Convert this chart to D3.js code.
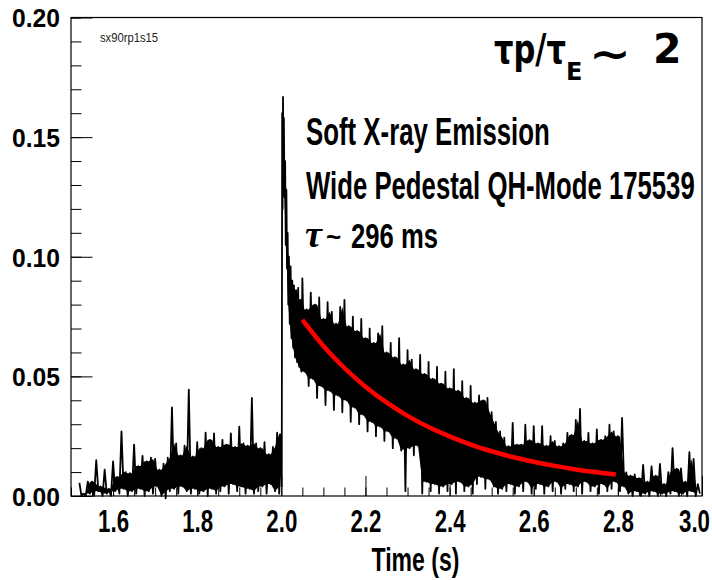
<!DOCTYPE html>
<html><head><meta charset="utf-8">
<script src="https://cdn.jsdelivr.net/npm/d3@7"></script>
<style>html,body{margin:0;padding:0;background:#fff;} svg{display:block}</style>
</head><body>
<svg id="chart" width="712" height="580"></svg>
<script>
// ---------------- data ----------------
const sigTime = [
1.52,1.53,1.54,1.55,1.56,1.57,1.58,1.59,1.60,1.61,1.62,1.63,1.64,1.65,1.66,1.67,1.68,1.69,1.70,1.71,1.72,1.73,1.74,1.75,
1.76,1.77,1.78,1.79,1.80,1.81,1.82,1.83,1.84,1.85,1.86,1.87,1.88,1.89,1.90,1.91,1.92,1.93,1.94,1.95,1.96,1.97,1.98,1.99,
2.000,2.002,2.004,2.006,2.009,2.012,2.015,2.018,2.022,2.026,2.030,2.035,2.040,2.045,
2.05,2.06,2.07,2.08,2.09,2.10,2.11,2.12,2.13,2.14,2.15,2.16,2.17,2.18,2.19,2.20,2.21,2.22,2.23,2.24,2.25,2.26,2.27,2.28,
2.29,2.30,2.31,2.32,2.33,2.34,2.35,2.36,2.37,2.38,2.39,2.40,2.41,2.42,2.43,2.44,2.45,2.46,2.47,2.48,2.49,2.50,2.51,2.52,
2.53,2.54,2.55,2.56,2.57,2.58,2.59,2.60,2.61,2.62,2.63,2.64,2.65,2.66,2.67,2.68,2.69,2.70,2.71,2.72,2.73,2.74,2.75,2.76,
2.77,2.78,2.79,2.80,2.81,2.82,2.83,2.84,2.85,2.86,2.87,2.88,2.89,2.90,2.91,2.92,2.93,2.94,2.95,2.96,2.97,2.98,2.99];
const sigHigh = [
0.0055,0.001,0.006,0.006,0.015,0.004,0.011,0.003,0.0145,0.008,0.027,0.010,0.0095,0.0215,0.0125,0.0168,0.0145,0.016,0.0155,0.011,0.0135,0.016,0.037,0.022,
0.017,0.021,0.0444,0.0165,0.0225,0.020,0.0265,0.0235,0.0262,0.0205,0.0235,0.0215,0.0262,0.0205,0.029,0.022,0.021,0.041,0.022,0.020,0.0225,0.0175,0.0205,0.0265,
0.026,0.160,0.1668,0.158,0.140,0.128,0.110,0.100,0.096,0.090,0.088,0.086,0.087,0.082,
0.091,0.078,0.085,0.080,0.083,0.074,0.081,0.077,0.072,0.079,0.082,0.071,0.075,0.069,0.074,0.066,0.070,0.064,0.068,0.071,0.060,0.064,0.058,0.066,
0.055,0.061,0.057,0.053,0.059,0.051,0.056,0.049,0.054,0.047,0.052,0.045,0.053,0.044,0.048,0.041,0.046,0.039,0.042,0.040,0.041,0.035,0.031,0.027,
0.0244,0.0208,0.0306,0.0215,0.0215,0.0298,0.0233,0.0292,0.022,0.0292,0.021,0.025,0.023,0.0208,0.022,0.0264,0.0255,0.0318,0.0364,0.023,0.0264,0.022,0.0278,0.0235,
0.025,0.0298,0.027,0.025,0.0326,0.0099,0.0085,0.009,0.0075,0.013,0.006,0.0124,0.0085,0.0134,0.005,0.010,0.020,0.0114,0.0115,0.006,0.0183,0.0155,0.005];
const sigLow = [
0.000,0.000,0.001,0.000,0.002,0.000,0.001,0.000,0.002,0.001,0.003,0.000,0.002,0.001,0.003,0.000,0.002,0.001,0.004,0.000,-0.001,0.002,0.003,0.001,
0.004,0.002,0.001,0.003,0.001,0.002,0.000,0.003,0.001,0.002,0.004,0.001,0.005,0.002,0.004,0.001,0.003,0.001,0.002,0.004,0.001,0.005,0.002,0.001,
0.004,0.120,0.135,0.125,0.105,0.095,0.080,0.072,0.066,0.062,0.058,0.056,0.054,0.052,
0.052,0.046,0.049,0.041,0.046,0.038,0.044,0.036,0.042,0.035,0.040,0.031,0.037,0.030,0.034,0.027,0.031,0.025,0.029,0.023,0.027,0.020,0.024,0.019,
0.002,0.020,0.017,0.021,0.001,0.006,0.002,0.005,0.001,0.004,0.002,0.005,0.001,0.006,0.002,0.004,0.001,0.005,0.008,0.003,0.007,0.004,0.001,0.003,
0.002,0.005,0.001,0.004,0.002,0.006,0.001,0.003,0.005,0.001,0.004,0.002,0.006,0.001,0.003,0.005,0.002,0.004,0.001,0.006,0.002,0.004,0.001,0.005,
0.002,0.003,0.006,0.002,0.004,0.001,0.000,0.002,0.000,0.001,0.000,0.002,0.000,0.001,0.000,0.001,0.002,0.000,0.001,0.000,0.002,0.000,0.001];
const fitTime  = [2.05,2.10,2.15,2.20,2.25,2.30,2.35,2.40,2.45,2.50,2.55,2.60,2.65,2.70,2.75,2.795];
const fitValue = [0.0736,0.0627,0.0535,0.0457,0.0391,0.0335,0.0288,0.0249,0.0215,0.0187,0.0163,0.0143,0.0126,0.0111,0.0099,0.0090];
const xMajorTicks = [1.6,1.8,2.0,2.2,2.4,2.6,2.8,3.0];
const yMajorTicks = [0.00,0.05,0.10,0.15,0.20];
const xDomain = [1.5,3.0];
const yDomain = [0,0.20];
const xTitle = "Time (s)";
const tagText = "sx90rp1s15";
const noteLines = ["Soft X-ray Emission","Wide Pedestal QH-Mode 175539"];
const tauValue = "296 ms";

// ---------------- layout ----------------
const L=71, R=702, T=17.5, B=496;
const svg = d3.select("#chart");
const x = d3.scaleLinear().domain(xDomain).range([L,R]);
const y = d3.scaleLinear().domain(yDomain).range([B,T]);
const NARROW = "'Liberation Sans Narrow','Liberation Sans',Arial,sans-serif";

function fitW(sel, w, ax){
  const bw = sel.node().getBBox().width;
  const s = w/bw;
  sel.attr("transform",`translate(${ax},0) scale(${s},1) translate(${-ax},0)`);
}

// minor/major ticks
const xMinor = d3.range(1.5,3.0001,0.05);
const yMinor = d3.range(0,0.2001,0.01);
svg.append("g").attr("transform",`translate(0,${B})`)
  .call(d3.axisBottom(x).tickValues(xMinor).tickSize(-8.5).tickFormat(""))
  .call(g=>g.select(".domain").remove());
svg.append("g").attr("transform",`translate(${L},0)`)
  .call(d3.axisLeft(y).tickValues(yMinor).tickSize(-10.5).tickFormat(""))
  .call(g=>g.select(".domain").remove());

const gx = svg.append("g").attr("transform",`translate(0,${B})`)
  .call(d3.axisBottom(x).tickValues(xMajorTicks).tickSize(-20).tickPadding(13).tickFormat(d3.format(".1f")))
  .call(g=>g.select(".domain").remove());
gx.selectAll("text").attr("font-family",NARROW).attr("font-weight","bold").attr("font-size",32).attr("fill","#000")
  .each(function(d){ const s=d3.select(this); fitW(s,31,0); if(d===3.0){ s.attr("x",-8); fitW(s,31,-8);} });

const gy = svg.append("g").attr("transform",`translate(${L},0)`)
  .call(d3.axisLeft(y).tickValues(yMajorTicks).tickSize(-21.5).tickPadding(11).tickFormat(d3.format(".2f")))
  .call(g=>g.select(".domain").remove());
gy.selectAll("text").attr("font-family","'Liberation Sans',Arial,sans-serif").attr("font-weight","bold")
  .attr("font-size",25.5).attr("dy","0.37em").attr("fill","#000")
  .each(function(){ fitW(d3.select(this),48,-11); });
svg.selectAll(".tick line").attr("stroke","#000").attr("stroke-width",1);

// signal: solid body between neighbouring samples + spiky trace
const body = [];
for (let i=0;i<sigTime.length-1;i++){
  const top = Math.min(sigHigh[i], sigHigh[i+1]);
  const bot = Math.max(sigLow[i], sigLow[i+1]);
  body.push([(sigTime[i]+sigTime[i+1])/2, Math.min(bot,top), top]);
}
svg.append("path").datum(body)
  .attr("d", d3.area().x(d=>x(d[0])).y0(d=>y(d[1])).y1(d=>y(d[2])))
  .attr("fill","#000");
const pts = [];
sigTime.forEach((t,i)=>{
  const nxt = i<sigTime.length-1 ? sigTime[i+1] : t+0.01;
  pts.push([t, sigHigh[i]]);
  pts.push([(t+nxt)/2, sigLow[i]]);
});
svg.append("path").datum(pts)
  .attr("d", d3.line().x(d=>x(d[0])).y(d=>y(d[1])))
  .attr("fill","none").attr("stroke","#000").attr("stroke-width",1.8).attr("stroke-linejoin","round");

// fit curve
svg.append("path").datum(fitTime.map((t,i)=>[t,fitValue[i]]))
  .attr("d", d3.line().x(d=>x(d[0])).y(d=>y(d[1])).curve(d3.curveMonotoneX))
  .attr("fill","none").attr("stroke","#ff0000").attr("stroke-width",4.5);

// frame
svg.append("rect").attr("x",L).attr("y",T).attr("width",R-L).attr("height",B-T)
  .attr("fill","none").attr("stroke","#000").attr("stroke-width",1.2);

// axis title
const xt = svg.append("text").attr("x",415.5).attr("y",571).attr("text-anchor","middle")
  .attr("font-family",NARROW).attr("font-weight","bold").attr("font-size",33).text(xTitle);
fitW(xt,88,415.5);

// tag
const tg = svg.append("text").attr("x",100).attr("y",42.5).attr("font-family",NARROW)
  .attr("font-size",13.5).attr("fill","#222").text(tagText);
fitW(tg,58,100);

// notes
const n1 = svg.append("text").attr("x",306).attr("y",145).attr("font-family",NARROW)
  .attr("font-weight","bold").attr("font-size",38).text(noteLines[0]);
fitW(n1,244,306);
const n2 = svg.append("text").attr("x",306).attr("y",199).attr("font-family",NARROW)
  .attr("font-weight","bold").attr("font-size",38).text(noteLines[1]);
fitW(n2,389,306);
svg.append("text").attr("x",305).attr("y",247).attr("font-family","'Liberation Serif',serif")
  .attr("font-style","italic").attr("font-weight","bold").attr("font-size",38).text("τ");
svg.append("text").attr("x",326).attr("y",246).attr("font-family",NARROW)
  .attr("font-weight","bold").attr("font-size",26).text("~");
const n3 = svg.append("text").attr("x",351).attr("y",248).attr("font-family",NARROW)
  .attr("font-weight","bold").attr("font-size",36).text(tauValue);
fitW(n3,87,351);

// ratio title
const FT = "'DejaVu Sans',sans-serif";
const t1 = svg.append("text").attr("x",494).attr("y",63).attr("font-family",FT).attr("font-weight","bold")
  .attr("font-size",40).text("τp/τ");
fitW(t1,72,494);
svg.append("text").attr("x",566).attr("y",79.5).attr("font-family",FT).attr("font-weight","bold")
  .attr("font-size",24).text("E");
const t3 = svg.append("text").attr("x",589).attr("y",68).attr("font-family",FT).attr("font-weight","bold")
  .attr("font-size",40).text("~");
fitW(t3,42,589);
svg.append("text").attr("x",653).attr("y",63).attr("font-family",FT).attr("font-weight","bold")
  .attr("font-size",41).text("2");
</script>
</body></html>
